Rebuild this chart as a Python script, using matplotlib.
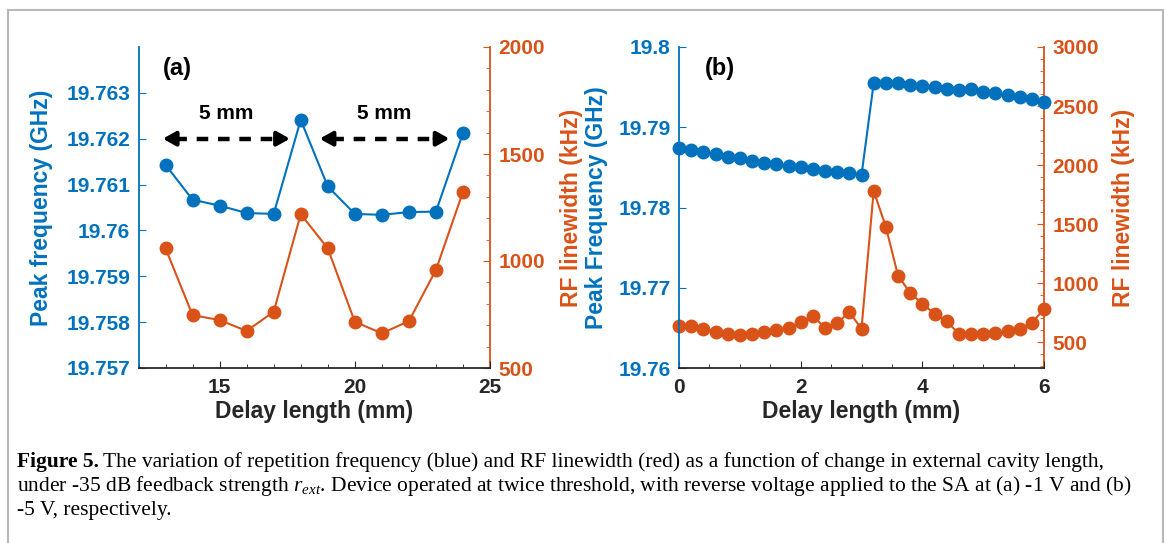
import matplotlib.pyplot as plt
from matplotlib.lines import Line2D
from matplotlib.ticker import FixedLocator, MultipleLocator

plt.rcParams['font.family'] = ['Liberation Sans', 'DejaVu Sans']
plt.rcParams['font.weight'] = 'bold'
plt.rcParams['axes.labelweight'] = 'bold'
plt.rcParams['mathtext.fontset'] = 'custom'
plt.rcParams['mathtext.rm'] = 'Liberation Serif:normal'
plt.rcParams['mathtext.it'] = 'Liberation Serif:italic:normal'

BLUE = '#0072BD'
ORANGE = '#D95319'
GRAY = '#262626'

# panel (a): -1 V
a_delay = [13, 14, 15, 16, 17, 18, 19, 20, 21, 22, 23, 24]
a_freq = [19.76143, 19.76067, 19.76054, 19.76038, 19.76036, 19.76241,
          19.76096, 19.76036, 19.76034, 19.76040, 19.76041, 19.76212]
a_width = [1059, 747, 724, 673, 763, 1219, 1059, 716, 662, 719, 958, 1323]
a_freq_ticks = [19.757, 19.758, 19.759, 19.76, 19.761, 19.762, 19.763]
a_width_ticks = [500, 1000, 1500, 2000]
a_arrows = [(12.9, 17.6), (18.7, 23.5)]

# panel (b): -5 V
b_delay = [round(0.2 * i, 1) for i in range(31)]
b_freq = [19.78738, 19.78716, 19.78688, 19.78663, 19.78633, 19.78613, 19.78583,
          19.78558, 19.78538, 19.78517, 19.78501, 19.78480, 19.78459, 19.78439,
          19.78426, 19.78401,
          19.79548, 19.79548, 19.79548, 19.79527, 19.79514, 19.79498, 19.79477,
          19.79464, 19.79473, 19.79443, 19.79423, 19.79402, 19.79381, 19.79352,
          19.79318]
b_width = [633, 633, 613, 585, 571, 562, 571, 585, 605, 622, 669, 720, 622, 660,
           753, 613,
           1781, 1477, 1063, 917, 824, 740, 675, 571, 571, 571, 578, 593, 613,
           660, 782]
b_freq_ticks = [19.76, 19.77, 19.78, 19.79, 19.8]
b_width_ticks = [500, 1000, 1500, 2000, 2500, 3000]

W, H = 1165, 543
fig = plt.figure(figsize=(W / 100, H / 100), dpi=100)


def px_axes(x0, x1, y0, y1):
    return fig.add_axes([x0 / W, 1 - y1 / H, (x1 - x0) / W, (y1 - y0) / H])


def setup(ax, ax2, xlim, xmajor, xminor, ylim, yticks, y2lim, y2ticks,
          ylab, y2lab, ylab_x, y2lab_x):
    ax.set_xlim(*xlim)
    ax.set_ylim(*ylim)
    ax2.set_ylim(*y2lim)
    ax.xaxis.set_major_locator(FixedLocator(xmajor))
    ax.xaxis.set_minor_locator(MultipleLocator(xminor))
    ax.yaxis.set_major_locator(FixedLocator(yticks))
    ax.set_yticklabels(['%g' % t for t in yticks])
    ax2.yaxis.set_major_locator(FixedLocator(y2ticks))
    ax2.yaxis.set_minor_locator(MultipleLocator(100))
    ax2.set_yticklabels(['%g' % t for t in y2ticks])
    for s in ['top', 'right']:
        ax.spines[s].set_visible(False)
    for s in ['top', 'left', 'bottom']:
        ax2.spines[s].set_visible(False)
    ax.spines['left'].set_color(BLUE)
    ax.spines['bottom'].set_color(GRAY)
    ax2.spines['right'].set_color(ORANGE)
    for sp in [ax.spines['left'], ax.spines['bottom'], ax2.spines['right']]:
        sp.set_linewidth(1.3)
    ax.tick_params(axis='x', which='both', direction='in', colors=GRAY,
                   labelsize=15, pad=7)
    ax.tick_params(axis='x', which='major', length=5)
    ax.tick_params(axis='x', which='minor', length=3)
    ax.tick_params(axis='y', which='both', direction='in', colors=BLUE,
                   labelsize=15, length=5, pad=6)
    ax2.tick_params(axis='y', which='major', direction='in', colors=ORANGE,
                    labelsize=15, length=5, pad=6)
    ax2.tick_params(axis='y', which='minor', direction='in', colors=ORANGE,
                    length=3)
    ax.set_xlabel('Delay length (mm)', fontsize=16.5, color=GRAY, va='top')
    ax.xaxis.set_label_coords(0.5, -0.1)
    ax.set_ylabel(ylab, fontsize=16.5, color=BLUE)
    ax.yaxis.set_label_coords(ylab_x, 0.5)
    ax2.set_ylabel(y2lab, fontsize=16.5, color=ORANGE)
    ax2.yaxis.set_label_coords(y2lab_x, 0.5)
    ax2.set_zorder(ax.get_zorder() - 1)
    ax.patch.set_visible(False)


# ---- (a)
axa = px_axes(138.5, 490, 47, 368)
axa2 = axa.twinx()
axa2.plot(a_delay, a_width, '-o', color=ORANGE, lw=1.5, ms=9, clip_on=False)
axa.plot(a_delay, a_freq, '-o', color=BLUE, lw=1.5, ms=9, clip_on=False)
setup(axa, axa2, (12, 25), [15, 20, 25], 1, (19.757, 19.764), a_freq_ticks,
      (500, 2000), a_width_ticks, 'Peak frequency (GHz)', 'RF linewidth (kHz)',
      -0.243, 1.199)
arrow_y = 19.762
head = 0.55
for x1, x2 in a_arrows:
    axa.plot([x1 + head, x2 - head], [arrow_y, arrow_y], color='k', lw=3.2,
             ls=(0.6, (2.6, 2.2)), solid_capstyle='butt', dash_capstyle='butt')
    for tip, tail in [(x1, x1 + head), (x2, x2 - head)]:
        axa.annotate('', xy=(tip, arrow_y), xytext=(tail, arrow_y),
                     arrowprops=dict(arrowstyle='-|>,head_length=0.75,head_width=0.42',
                                     lw=3, color='k', shrinkA=0, shrinkB=0))
    axa.text((x1 + x2) / 2, 19.76255, '5 mm', fontsize=15, ha='center',
             va='center', color='k')
axa.text(0.07, 0.97, '(a)', transform=axa.transAxes, fontsize=17, va='top',
         color='k')

# ---- (b)
axb = px_axes(679, 1044, 47, 368)
axb2 = axb.twinx()
axb2.plot(b_delay, b_width, '-o', color=ORANGE, lw=1.5, ms=9, clip_on=False)
axb.plot(b_delay, b_freq, '-o', color=BLUE, lw=1.5, ms=9, clip_on=False)
setup(axb, axb2, (0, 6), [0, 2, 4, 6], 0.5, (19.76, 19.8), b_freq_ticks,
      (280, 3000), b_width_ticks, 'Peak Frequency (GHz)', 'RF linewidth (kHz)',
      -0.195, 1.186)
axb.text(0.07, 0.97, '(b)', transform=axb.transAxes, fontsize=17, va='top',
         color='k')

# frame round the figure
fc = '#b8b8b8'
fig.add_artist(Line2D([8 / W, 8 / W], [0, 1 - 10 / H], color=fc, lw=1.5))
fig.add_artist(Line2D([8 / W, 1163 / W], [1 - 10 / H, 1 - 10 / H], color=fc, lw=1.5))
fig.add_artist(Line2D([1163 / W, 1163 / W], [0, 1 - 10 / H], color=fc, lw=1.5))

# caption, sized so the longest line ends where the figure's lines end
cap_font = 'Liberation Serif'
cap_x = 17
cap_right = 1130
lines_y = [462, 486, 510]
line1 = ('The variation of repetition frequency (blue) and RF linewidth (red) '
         'as a function of change in external cavity length,')
line2 = ('under -35 dB feedback strength $r_{ext}$. Device operated at twice '
         'threshold, with reverse voltage applied to the SA at (a) -1 V and (b)')
line3 = '-5 V, respectively.'

r = fig.canvas.get_renderer()
size = 13.5
t0 = fig.text(cap_x / W, 1 - lines_y[0] / H, 'Figure 5.', family=cap_font,
              weight='bold', fontsize=size, va='center')
t1 = fig.text(0, 1 - lines_y[0] / H, line1, family=cap_font, weight='normal',
              fontsize=size, va='center')
t2 = fig.text(cap_x / W, 1 - lines_y[1] / H, line2, family=cap_font,
              weight='normal', fontsize=size, va='center')
t3 = fig.text(cap_x / W, 1 - lines_y[2] / H, line3, family=cap_font,
              weight='normal', fontsize=size, va='center')
for _ in range(3):
    t1.set_x((t0.get_window_extent(r).x1 + 4) / W)
    right = max(t1.get_window_extent(r).x1, t2.get_window_extent(r).x1)
    size *= (cap_right - cap_x) / (right - cap_x)
    for t in (t0, t1, t2, t3):
        t.set_fontsize(size)
t1.set_x((t0.get_window_extent(r).x1 + 4) / W)

fig.savefig('out.png', dpi=100)
